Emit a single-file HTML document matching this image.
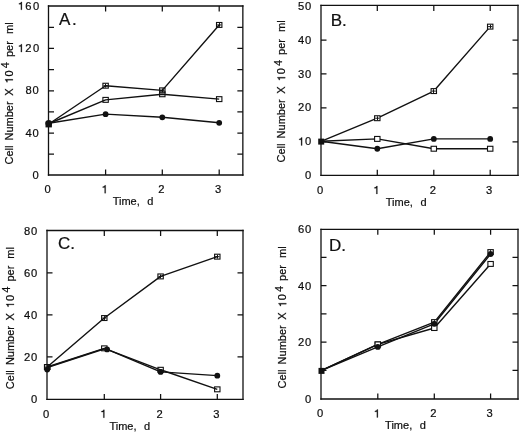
<!DOCTYPE html><html><head><meta charset="utf-8"><style>html,body{margin:0;padding:0;background:#fff;}svg{display:block;filter:grayscale(1);}text{font-family:"Liberation Sans", sans-serif;fill:#111;stroke:#000;stroke-width:0.2px;}</style></head><body>
<svg width="520" height="434" viewBox="0 0 520 434">
<rect width="520" height="434" fill="#fff"/>
<g>
<g><path d="M48.5 6H242.85M48.5 175H242.85" stroke="#111" stroke-width="1.3" fill="none" stroke-linecap="square"/><path d="M48.5 6V175M242.85 6V175" stroke="#111" stroke-width="1.3" fill="none" stroke-linecap="square"/><path d="M48.5 154.16H54M242.85 154.16H237.35M48.5 133.03H54M242.85 133.03H237.35M48.5 111.89H54M242.85 111.89H237.35M48.5 90.75H54M242.85 90.75H237.35M48.5 69.61H54M242.85 69.61H237.35M48.5 48.47H54M242.85 48.47H237.35M48.5 27.34H54M242.85 27.34H237.35M105.6 175V169.5M105.6 6V11.5M162.3 175V169.5M162.3 6V11.5M219.2 175V169.5M219.2 6V11.5" stroke="#111" stroke-width="1.25" fill="none"/><text x="32.47" y="178.91" font-size="11.2">0</text><text x="25.45" y="136.64" font-size="11.2">4</text><text x="32.47" y="136.64" font-size="11.2">0</text><text x="25.45" y="94.36" font-size="11.2">8</text><text x="32.47" y="94.36" font-size="11.2">0</text><path transform="translate(17.72 52.09) scale(11.2)" d="M.372 0V-.703H.293C.27 -.608 .224 -.586 .107 -.572V-.498H.283V0Z" fill="#111" stroke="#000" stroke-width="0.02"/><text x="25.35" y="52.09" font-size="11.2">2</text><text x="32.97" y="52.09" font-size="11.2">0</text><path transform="translate(17.72 9.81) scale(11.2)" d="M.372 0V-.703H.293C.27 -.608 .224 -.586 .107 -.572V-.498H.283V0Z" fill="#111" stroke="#000" stroke-width="0.02"/><text x="25.35" y="9.81" font-size="11.2">6</text><text x="32.97" y="9.81" font-size="11.2">0</text><text x="44.39" y="193.2" font-size="11.2">0</text><path transform="translate(101.49 193.2) scale(11.2)" d="M.372 0V-.703H.293C.27 -.608 .224 -.586 .107 -.572V-.498H.283V0Z" fill="#111" stroke="#000" stroke-width="0.02"/><text x="158.19" y="193.2" font-size="11.2">2</text><text x="215.09" y="193.2" font-size="11.2">3</text><text x="112.7" y="204.5" font-size="11" word-spacing="0.7" xml:space="preserve">Time,  d</text><text x="59" y="25.4" font-size="17" letter-spacing="1.6">A.</text><g transform="translate(12.9 164) rotate(-90)"><text x="-0.56" y="0" font-size="11">Cell</text><text x="23.5" y="0" font-size="11">Number</text><text x="68.16" y="0" font-size="11">X</text><path transform="translate(80.62 0) scale(11)" d="M.372 0V-.703H.293C.27 -.608 .224 -.586 .107 -.572V-.498H.283V0Z" fill="#111" stroke="#000" stroke-width="0.02"/><text x="87.57" y="0" font-size="11">0</text><text x="95.85" y="-3.7" font-size="11">4</text><text x="107" y="0" font-size="11">per</text><text x="129.97" y="0" font-size="11">ml</text></g><path d="M50.3 123 L105.6 85.71 L162.3 90.36 L219.2 24.94" stroke="#111" stroke-width="1.4" fill="none" stroke-linejoin="round"/><path d="M50.3 123 L105.6 99.87 L162.3 94.27 L219.2 99.13" stroke="#111" stroke-width="1.4" fill="none" stroke-linejoin="round"/><path d="M50.3 123 L105.6 114.14 L162.3 117.31 L219.2 122.8" stroke="#111" stroke-width="1.4" fill="none" stroke-linejoin="round"/><rect x="102.9" y="83.26" width="5.4" height="4.9" fill="none" stroke="#111" stroke-width="1.1"/><path d="M103.45 85.71H107.75M105.5 83.81V87.61" stroke="#111" stroke-width="1"/><rect x="159.6" y="87.91" width="5.4" height="4.9" fill="none" stroke="#111" stroke-width="1.1"/><path d="M160.15 90.36H164.45M162.5 88.46V92.26" stroke="#111" stroke-width="1"/><rect x="216.5" y="22.49" width="5.4" height="4.9" fill="none" stroke="#111" stroke-width="1.1"/><path d="M217.05 24.94H221.35M219.5 23.04V26.84" stroke="#111" stroke-width="1"/><rect x="102.9" y="97.42" width="5.4" height="4.9" fill="none" stroke="#111" stroke-width="1.1"/><rect x="159.6" y="91.82" width="5.4" height="4.9" fill="none" stroke="#111" stroke-width="1.1"/><rect x="216.5" y="96.68" width="5.4" height="4.9" fill="none" stroke="#111" stroke-width="1.1"/><circle cx="105.6" cy="114.14" r="2.9" fill="#111"/><circle cx="162.3" cy="117.31" r="2.9" fill="#111"/><circle cx="219.2" cy="122.8" r="2.9" fill="#111"/><rect x="45.5" y="121.6" width="6.4" height="5.8" fill="#111"/><circle cx="48.7" cy="123.2" r="3.2" fill="#111"/></g>
<g><path d="M321 5.45H518M321 175.35H518" stroke="#111" stroke-width="1.3" fill="none" stroke-linecap="square"/><path d="M321 5.45V175.35M518 5.45V175.35" stroke="#111" stroke-width="1.3" fill="none" stroke-linecap="square"/><path d="M321 141.78H326.5M518 141.78H512.5M321 107.86H326.5M518 107.86H512.5M321 73.94H326.5M518 73.94H512.5M321 40.02H326.5M518 40.02H512.5M377.3 175.35V169.85M377.3 5.45V10.95M433.8 175.35V169.85M433.8 5.45V10.95M490.2 175.35V169.85M490.2 5.45V10.95" stroke="#111" stroke-width="1.25" fill="none"/><text x="304.97" y="179.31" font-size="11.2">0</text><path transform="translate(297.95 145.39) scale(11.2)" d="M.372 0V-.703H.293C.27 -.608 .224 -.586 .107 -.572V-.498H.283V0Z" fill="#111" stroke="#000" stroke-width="0.02"/><text x="304.97" y="145.39" font-size="11.2">0</text><text x="297.95" y="111.47" font-size="11.2">2</text><text x="304.97" y="111.47" font-size="11.2">0</text><text x="297.95" y="77.55" font-size="11.2">3</text><text x="304.97" y="77.55" font-size="11.2">0</text><text x="297.95" y="43.63" font-size="11.2">4</text><text x="304.97" y="43.63" font-size="11.2">0</text><text x="297.95" y="9.71" font-size="11.2">5</text><text x="304.97" y="9.71" font-size="11.2">0</text><text x="316.89" y="193.9" font-size="11.2">0</text><path transform="translate(373.19 193.9) scale(11.2)" d="M.372 0V-.703H.293C.27 -.608 .224 -.586 .107 -.572V-.498H.283V0Z" fill="#111" stroke="#000" stroke-width="0.02"/><text x="429.69" y="193.9" font-size="11.2">2</text><text x="486.09" y="193.9" font-size="11.2">3</text><text x="385.8" y="205.8" font-size="11" word-spacing="0.7" xml:space="preserve">Time,  d</text><text x="330.7" y="25.9" font-size="17" letter-spacing="0">B.</text><g transform="translate(285.2 161.9) rotate(-90)"><text x="-0.56" y="0" font-size="11">Cell</text><text x="23.5" y="0" font-size="11">Number</text><text x="68.16" y="0" font-size="11">X</text><path transform="translate(80.62 0) scale(11)" d="M.372 0V-.703H.293C.27 -.608 .224 -.586 .107 -.572V-.498H.283V0Z" fill="#111" stroke="#000" stroke-width="0.02"/><text x="87.57" y="0" font-size="11">0</text><text x="95.85" y="-3.7" font-size="11">4</text><text x="107" y="0" font-size="11">per</text><text x="129.97" y="0" font-size="11">ml</text></g><path d="M321 141.28 L377.3 118.21 L433.8 91.08 L490.2 26.63" stroke="#111" stroke-width="1.4" fill="none" stroke-linejoin="round"/><path d="M321 141.28 L377.3 138.91 L433.8 148.74 L490.2 148.74" stroke="#111" stroke-width="1.4" fill="none" stroke-linejoin="round"/><path d="M321 141.28 L377.3 148.74 L433.8 138.91 L490.2 138.91" stroke="#111" stroke-width="1.4" fill="none" stroke-linejoin="round"/><rect x="374.6" y="115.76" width="5.4" height="4.9" fill="#fff" stroke="#111" stroke-width="1.1"/><path d="M375.15 118.21H379.45M377.5 116.31V120.11" stroke="#111" stroke-width="1"/><rect x="431.1" y="88.63" width="5.4" height="4.9" fill="#fff" stroke="#111" stroke-width="1.1"/><path d="M431.65 91.08H435.95M433.5 89.18V92.98" stroke="#111" stroke-width="1"/><rect x="487.5" y="24.18" width="5.4" height="4.9" fill="#fff" stroke="#111" stroke-width="1.1"/><path d="M488.05 26.63H492.35M490.5 24.73V28.53" stroke="#111" stroke-width="1"/><rect x="374.6" y="136.46" width="5.4" height="4.9" fill="#fff" stroke="#111" stroke-width="1.1"/><rect x="431.1" y="146.29" width="5.4" height="4.9" fill="#fff" stroke="#111" stroke-width="1.1"/><rect x="487.5" y="146.29" width="5.4" height="4.9" fill="#fff" stroke="#111" stroke-width="1.1"/><circle cx="377.3" cy="148.74" r="2.9" fill="#111"/><circle cx="433.8" cy="138.91" r="2.9" fill="#111"/><circle cx="490.2" cy="138.91" r="2.9" fill="#111"/><rect x="318.2" y="138.6" width="6" height="6" fill="#111"/></g>
<g><path d="M47 230.5H243M47 399.4H243" stroke="#111" stroke-width="1.3" fill="none" stroke-linecap="square"/><path d="M47 230.5V399.4M243 230.5V399.4" stroke="#111" stroke-width="1.3" fill="none" stroke-linecap="square"/><path d="M47 356.95H52.5M243 356.95H237.5M47 314.9H52.5M243 314.9H237.5M47 272.85H52.5M243 272.85H237.5M104.3 399.4V393.9M104.3 230.5V236M160.6 399.4V393.9M160.6 230.5V236M217.3 399.4V393.9M217.3 230.5V236" stroke="#111" stroke-width="1.25" fill="none"/><text x="31.07" y="402.86" font-size="11.2">0</text><text x="24.05" y="360.81" font-size="11.2">2</text><text x="31.07" y="360.81" font-size="11.2">0</text><text x="24.05" y="318.76" font-size="11.2">4</text><text x="31.07" y="318.76" font-size="11.2">0</text><text x="24.05" y="276.71" font-size="11.2">6</text><text x="31.07" y="276.71" font-size="11.2">0</text><text x="24.05" y="234.66" font-size="11.2">8</text><text x="31.07" y="234.66" font-size="11.2">0</text><text x="43.09" y="417.7" font-size="11.2">0</text><path transform="translate(100.19 417.7) scale(11.2)" d="M.372 0V-.703H.293C.27 -.608 .224 -.586 .107 -.572V-.498H.283V0Z" fill="#111" stroke="#000" stroke-width="0.02"/><text x="156.49" y="417.7" font-size="11.2">2</text><text x="213.19" y="417.7" font-size="11.2">3</text><text x="109.4" y="430.2" font-size="11" word-spacing="0.7" xml:space="preserve">Time,  d</text><text x="58" y="249.2" font-size="17" letter-spacing="0">C.</text><g transform="translate(14 388.6) rotate(-90)"><text x="-0.56" y="0" font-size="11">Cell</text><text x="23.5" y="0" font-size="11">Number</text><text x="68.16" y="0" font-size="11">X</text><path transform="translate(80.62 0) scale(11)" d="M.372 0V-.703H.293C.27 -.608 .224 -.586 .107 -.572V-.498H.283V0Z" fill="#111" stroke="#000" stroke-width="0.02"/><text x="87.57" y="0" font-size="11">0</text><text x="95.85" y="-3.7" font-size="11">4</text><text x="107" y="0" font-size="11">per</text><text x="129.97" y="0" font-size="11">ml</text></g><path d="M47.2 367.04 L104.3 318.05 L160.6 276.42 L217.3 256.66" stroke="#111" stroke-width="1.4" fill="none" stroke-linejoin="round"/><path d="M47.2 367.04 L104.3 348.33 L160.6 369.78 L217.3 389.33" stroke="#111" stroke-width="1.4" fill="none" stroke-linejoin="round"/><path d="M47.2 367.46 L105.43 348.54 L160.6 371.88 L217.3 375.66" stroke="#111" stroke-width="1.4" fill="none" stroke-linejoin="round"/><rect x="44.5" y="364.59" width="5.4" height="4.9" fill="none" stroke="#111" stroke-width="1.1"/><path d="M45.05 367.04H49.35M47.5 365.14V368.94" stroke="#111" stroke-width="1"/><rect x="101.6" y="315.6" width="5.4" height="4.9" fill="none" stroke="#111" stroke-width="1.1"/><path d="M102.15 318.05H106.45M104.5 316.15V319.95" stroke="#111" stroke-width="1"/><rect x="157.9" y="273.97" width="5.4" height="4.9" fill="none" stroke="#111" stroke-width="1.1"/><path d="M158.45 276.42H162.75M160.5 274.52V278.32" stroke="#111" stroke-width="1"/><rect x="214.6" y="254.21" width="5.4" height="4.9" fill="none" stroke="#111" stroke-width="1.1"/><path d="M215.15 256.66H219.45M217.5 254.76V258.56" stroke="#111" stroke-width="1"/><rect x="44.5" y="364.59" width="5.4" height="4.9" fill="none" stroke="#111" stroke-width="1.1"/><rect x="101.6" y="345.88" width="5.4" height="4.9" fill="none" stroke="#111" stroke-width="1.1"/><rect x="157.9" y="367.33" width="5.4" height="4.9" fill="none" stroke="#111" stroke-width="1.1"/><rect x="214.6" y="386.88" width="5.4" height="4.9" fill="none" stroke="#111" stroke-width="1.1"/><circle cx="47.2" cy="369.56" r="2.9" fill="#111"/><circle cx="107.11" cy="349.38" r="2.9" fill="#111"/><circle cx="160.6" cy="371.88" r="2.9" fill="#111"/><circle cx="217.3" cy="375.66" r="2.9" fill="#111"/></g>
<g><path d="M321 229.3H518M321 399H518" stroke="#111" stroke-width="1.3" fill="none" stroke-linecap="square"/><path d="M321 229.3V399M518 229.3V399" stroke="#111" stroke-width="1.3" fill="none" stroke-linecap="square"/><path d="M321 370.37H326.5M518 370.37H512.5M321 342.13H326.5M518 342.13H512.5M321 313.9H326.5M518 313.9H512.5M321 285.67H326.5M518 285.67H512.5M321 257.43H326.5M518 257.43H512.5M377.8 399V393.5M377.8 229.3V234.8M434.3 399V393.5M434.3 229.3V234.8M490.6 399V393.5M490.6 229.3V234.8" stroke="#111" stroke-width="1.25" fill="none"/><text x="305.07" y="402.61" font-size="11.2">0</text><text x="298.05" y="346.15" font-size="11.2">2</text><text x="305.07" y="346.15" font-size="11.2">0</text><text x="298.05" y="289.68" font-size="11.2">4</text><text x="305.07" y="289.68" font-size="11.2">0</text><text x="298.05" y="233.21" font-size="11.2">6</text><text x="305.07" y="233.21" font-size="11.2">0</text><text x="316.99" y="417.4" font-size="11.2">0</text><path transform="translate(373.69 417.4) scale(11.2)" d="M.372 0V-.703H.293C.27 -.608 .224 -.586 .107 -.572V-.498H.283V0Z" fill="#111" stroke="#000" stroke-width="0.02"/><text x="430.19" y="417.4" font-size="11.2">2</text><text x="486.49" y="417.4" font-size="11.2">3</text><text x="385.1" y="429.2" font-size="11" word-spacing="0.7" xml:space="preserve">Time,  d</text><text x="329" y="250.6" font-size="17" letter-spacing="0">D.</text><g transform="translate(286.3 387.9) rotate(-90)"><text x="-0.56" y="0" font-size="11">Cell</text><text x="23.5" y="0" font-size="11">Number</text><text x="68.16" y="0" font-size="11">X</text><path transform="translate(80.62 0) scale(11)" d="M.372 0V-.703H.293C.27 -.608 .224 -.586 .107 -.572V-.498H.283V0Z" fill="#111" stroke="#000" stroke-width="0.02"/><text x="87.57" y="0" font-size="11">0</text><text x="95.85" y="-3.7" font-size="11">4</text><text x="107" y="0" font-size="11">per</text><text x="129.97" y="0" font-size="11">ml</text></g><path d="M321.1 370.67 L377.8 344.41 L434.3 322.11 L490.6 252.09" stroke="#111" stroke-width="1.4" fill="none" stroke-linejoin="round"/><path d="M321.1 370.67 L377.8 344.41 L434.3 328.03 L490.6 263.94" stroke="#111" stroke-width="1.4" fill="none" stroke-linejoin="round"/><path d="M321.1 370.67 L377.8 346.95 L434.3 323.8 L490.6 254.06" stroke="#111" stroke-width="1.4" fill="none" stroke-linejoin="round"/><rect x="375.1" y="341.96" width="5.4" height="4.9" fill="#fff" stroke="#111" stroke-width="1.1"/><path d="M375.65 344.41H379.95M377.5 342.51V346.31" stroke="#111" stroke-width="1"/><rect x="431.6" y="319.66" width="5.4" height="4.9" fill="#fff" stroke="#111" stroke-width="1.1"/><path d="M432.15 322.11H436.45M434.5 320.21V324.01" stroke="#111" stroke-width="1"/><rect x="487.9" y="249.64" width="5.4" height="4.9" fill="#fff" stroke="#111" stroke-width="1.1"/><path d="M488.45 252.09H492.75M490.5 250.19V253.99" stroke="#111" stroke-width="1"/><rect x="375.1" y="341.96" width="5.4" height="4.9" fill="#fff" stroke="#111" stroke-width="1.1"/><rect x="431.6" y="325.58" width="5.4" height="4.9" fill="#fff" stroke="#111" stroke-width="1.1"/><rect x="487.9" y="261.49" width="5.4" height="4.9" fill="#fff" stroke="#111" stroke-width="1.1"/><circle cx="377.8" cy="346.95" r="2.9" fill="#111"/><circle cx="434.3" cy="323.8" r="2.9" fill="#111"/><circle cx="490.6" cy="254.06" r="2.9" fill="#111"/><rect x="318.5" y="367.9" width="6" height="6" fill="#111"/></g>
</g>
</svg></body></html>
